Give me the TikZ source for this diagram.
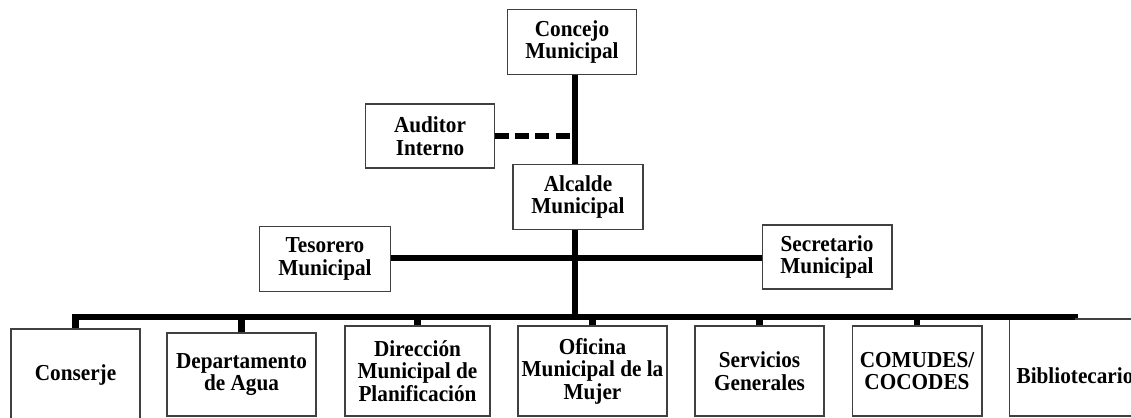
\documentclass[tikz,border=0pt]{standalone}
\usepackage{fontspec}
\setmainfont{Liberation Serif}[FakeStretch=0.93]
\begin{document}
\begin{tikzpicture}[x=0.02cm, y=-0.02cm,
  caja/.style={draw=black!75, line width=0.6pt, align=center, inner sep=2pt, font=\bfseries\fontsize{13}{12.8}\selectfont},
  linea/.style={line width=3.8pt},
  punteada/.style={line width=3.4pt, dash pattern=on 8pt off 3.5pt}]
\clip (0,0) rectangle (1131,418);
\node[caja, minimum width=2.58cm, minimum height=1.3cm] (concejo) at (572,42){Concejo\\Municipal};
\node[caja, minimum width=2.58cm, minimum height=1.28cm] (auditor) at (430,136){Auditor\\Interno};
\node[caja, minimum width=2.6cm, minimum height=1.3cm] (alcalde) at (578,197){Alcalde\\Municipal};
\node[caja, minimum width=2.62cm, minimum height=1.3cm] (tesorero) at (325,259){Tesorero\\Municipal};
\node[caja, minimum width=2.6cm, minimum height=1.28cm] (secretario) at (827,257){Secretario\\Municipal};
\node[caja, minimum width=2.58cm, minimum height=1.86cm] (conserje) at (75.5,375.5){Conserje};
\node[caja, minimum width=2.98cm, minimum height=1.66cm] (agua) at (241.5,374.5){Departamento\\de Agua};
\node[caja, minimum width=2.9cm, minimum height=1.8cm] (planif) at (417.5,371){Dirección\\Municipal de\\Planificación};
\node[caja, minimum width=2.98cm, minimum height=1.8cm] (mujer) at (592.5,371){Oficina\\Municipal de la\\Mujer};
\node[caja, minimum width=2.58cm, minimum height=1.8cm] (servicios) at (759.5,371){Servicios\\Generales};
\node[caja, minimum width=2.6cm, minimum height=1.8cm] (comudes) at (917,371){COMUDES/\\COCODES};
\node[caja, minimum width=2.64cm, minimum height=1.94cm, text height=0.65cm, text depth=0pt] (biblio) at (1075,367.5){Bibliotecario};
\coordinate (cruce) at (575,258);
\coordinate (barra) at (575,317);
% tronco central
\draw[linea] (concejo.south -| barra) -- (alcalde.north -| barra);
\draw[linea] (alcalde.south -| barra) -- (barra);
\draw[punteada] (auditor.east) -- (auditor.east -| barra);
\draw[linea] (tesorero.east |- cruce) -- (secretario.west |- cruce);
% barra inferior
\draw[linea] (conserje.north) -- (conserje.north |- barra) -- (biblio.north |- barra) -- (biblio.north);
\foreach \n in {agua, planif, mujer, servicios, comudes}
  \draw[linea] (\n.north) -- (\n.north |- barra);
\end{tikzpicture}
\end{document}
